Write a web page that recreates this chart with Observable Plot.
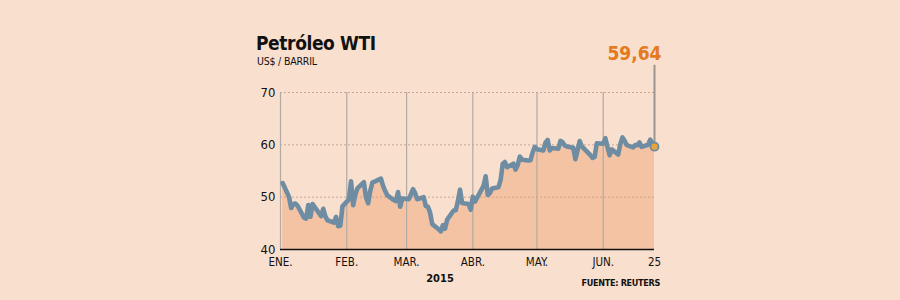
<!DOCTYPE html>
<html>
<head>
<meta charset="utf-8">
<script src="https://cdn.jsdelivr.net/npm/d3@7"></script>
<script src="https://cdn.jsdelivr.net/npm/@observablehq/plot@0.6"></script>
<style>
  html, body { margin: 0; padding: 0; background: #f9dfce; }
  #wrap { position: relative; width: 900px; height: 300px; overflow: hidden; font-family: "DejaVu Sans Condensed", "DejaVu Sans", sans-serif; }
  .abs { position: absolute; white-space: nowrap; color: #111; }
  #title { left: 256px; top: 32px; font-size: 19px; font-weight: bold; letter-spacing: -0.4px; }
  #subtitle { left: 257px; top: 55px; font-size: 10.5px; letter-spacing: -0.2px; }
  #year { left: 440px; top: 272px; font-size: 11px; font-weight: bold; transform: translateX(-50%); }
  #source { right: 240px; top: 278px; font-size: 9px; font-weight: bold; letter-spacing: -0.3px; }
</style>
</head>
<body>
<div id="wrap">
  <div id="chart"></div>
  <div class="abs" id="title">Petróleo WTI</div>
  <div class="abs" id="subtitle">US$ / BARRIL</div>
  <div class="abs" id="year">2015</div>
  <div class="abs" id="source">FUENTE: REUTERS</div>
</div>
<script>
const dates = [
  "2015-01-02","2015-01-05","2015-01-06","2015-01-07","2015-01-08","2015-01-09","2015-01-12","2015-01-13","2015-01-14","2015-01-15","2015-01-16","2015-01-20","2015-01-21","2015-01-22","2015-01-23","2015-01-26","2015-01-27","2015-01-28","2015-01-29","2015-01-30",
  "2015-02-02","2015-02-03","2015-02-04","2015-02-05","2015-02-06","2015-02-09","2015-02-10","2015-02-11","2015-02-12","2015-02-13","2015-02-17","2015-02-18","2015-02-19","2015-02-20","2015-02-23","2015-02-24","2015-02-25","2015-02-26","2015-02-27",
  "2015-03-02","2015-03-03","2015-03-04","2015-03-05","2015-03-06","2015-03-09","2015-03-10","2015-03-11","2015-03-12","2015-03-13","2015-03-16","2015-03-17","2015-03-18","2015-03-19","2015-03-20","2015-03-23","2015-03-24","2015-03-25","2015-03-26","2015-03-27","2015-03-30","2015-03-31",
  "2015-04-01","2015-04-02","2015-04-06","2015-04-07","2015-04-08","2015-04-09","2015-04-10","2015-04-13","2015-04-14","2015-04-15","2015-04-16","2015-04-17","2015-04-20","2015-04-21","2015-04-22","2015-04-23","2015-04-24","2015-04-27","2015-04-28","2015-04-29","2015-04-30",
  "2015-05-01","2015-05-04","2015-05-05","2015-05-06","2015-05-07","2015-05-08","2015-05-11","2015-05-12","2015-05-13","2015-05-14","2015-05-15","2015-05-18","2015-05-19","2015-05-20","2015-05-21","2015-05-22","2015-05-26","2015-05-27","2015-05-28","2015-05-29",
  "2015-06-01","2015-06-02","2015-06-03","2015-06-04","2015-06-05","2015-06-08","2015-06-09","2015-06-10","2015-06-11","2015-06-12","2015-06-15","2015-06-16","2015-06-17","2015-06-18","2015-06-19","2015-06-22","2015-06-23","2015-06-24","2015-06-25"
];
const prices = [
  52.69,50.04,47.93,48.65,48.79,48.36,46.07,45.89,48.48,46.25,48.69,46.39,47.78,46.31,45.59,45.15,46.23,44.45,44.53,48.24,
  49.57,53.05,48.45,50.48,51.69,52.86,50.02,48.84,51.21,52.78,53.53,52.14,51.16,50.34,49.45,49.25,50.99,48.17,49.76,
  49.59,50.52,51.53,50.76,49.61,50.00,48.29,48.17,47.05,44.84,43.88,43.46,44.66,43.96,45.72,47.45,47.51,49.21,51.43,48.87,48.68,47.60,
  50.09,49.14,52.14,53.98,50.42,50.79,51.64,51.91,53.29,56.39,56.71,55.74,56.38,55.26,56.16,57.74,57.15,56.99,57.06,58.58,59.63,
  59.15,58.93,60.40,60.93,58.94,59.39,59.25,60.75,60.50,59.88,59.69,59.43,57.26,58.98,60.72,59.72,58.03,57.51,57.68,60.30,
  60.20,61.26,59.64,58.00,59.13,58.14,60.14,61.43,60.77,59.96,59.52,59.97,59.92,60.45,59.61,60.01,61.01,60.27,59.64
];
const tickDates = ["2015-01-01","2015-02-01","2015-03-01","2015-04-01","2015-05-01","2015-06-01","2015-06-25"];
const tickLabels = ["ENE.","FEB.","MAR.","ABR.","MAY.","JUN.","25"];
const yTicks = [40, 50, 60, 70];
const lastLabel = "59,64";

const parse = d3.utcParse("%Y-%m-%d");
const data = dates.map((d, i) => ({date: parse(d), value: prices[i]}));
const ticks = tickDates.map(parse);
const last = data[data.length - 1];
const labelMap = new Map(ticks.map((t, i) => [+t, tickLabels[i]]));

const chart = Plot.plot({
  width: 900,
  height: 300,
  marginLeft: 280,
  marginRight: 246,
  marginTop: 92,
  marginBottom: 51,
  style: {background: "transparent", fontFamily: "'DejaVu Sans Condensed', 'DejaVu Sans', sans-serif", overflow: "visible"},
  x: {type: "utc", domain: [ticks[0], ticks[ticks.length - 1]], axis: null},
  y: {domain: [40, 70], axis: null},
  marks: [
    Plot.areaY(data, {x: "date", y1: 40, y2: "value", fill: "#f4c3a4", curve: "linear"}),
    Plot.ruleY(yTicks.slice(1), {stroke: "#c9a792", strokeDasharray: "2,2", strokeWidth: 1}),
    Plot.ruleX(ticks.slice(0, -1), {y1: 40, y2: 70, stroke: "#b3aaa3", strokeWidth: 1.2}),
    Plot.ruleX([last], {x: "date", y1: "value", y2: 75.2, stroke: "#9a9390", strokeWidth: 2}),
    Plot.line(data, {x: "date", y: "value", stroke: "#6e8ca2", strokeWidth: 4.6, strokeLinejoin: "round", strokeLinecap: "round"}),
    Plot.dot([last], {x: "date", y: "value", r: 4, fill: "#e8a53c", stroke: "#6e8ca2", strokeWidth: 1.8}),
    Plot.ruleY([40], {stroke: "#111", strokeWidth: 1.5}),
    Plot.axisY(yTicks, {anchor: "left", label: null, tickSize: 0, tickPadding: 5, fontSize: 13, fill: "#111"}),
    Plot.axisX(ticks, {anchor: "bottom", label: null, tickSize: 0, tickPadding: 8, fontSize: 11.5, fill: "#111", tickFormat: d => labelMap.get(+d)}),
    Plot.text([last], {x: "date", y: 75.2, text: () => lastLabel, dy: -11, dx: 7, textAnchor: "end", fill: "#e47a20", fontSize: 19, fontWeight: "bold"})
  ]
});
document.getElementById("chart").appendChild(chart);
</script>
</body>
</html>
